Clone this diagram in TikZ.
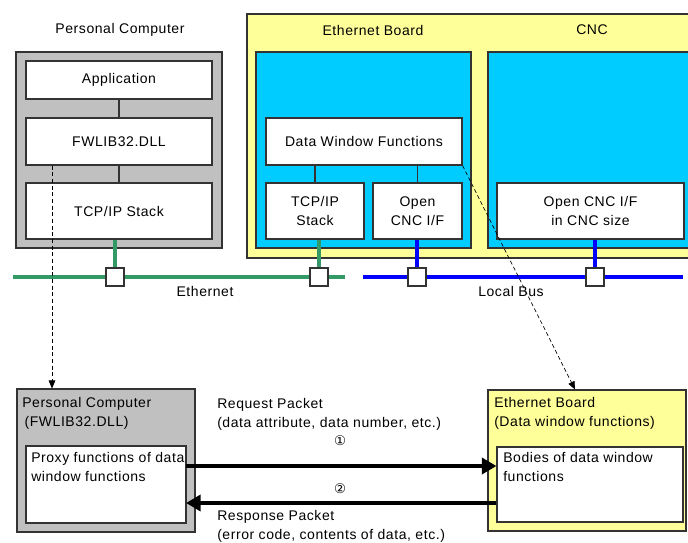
\documentclass[tikz,border=0pt]{standalone}
\usepackage{fontspec}
\setmainfont[LetterSpace=4]{Liberation Sans}
\newfontfamily\symfont{DejaVu Sans}
\usetikzlibrary{fit,arrows.meta}
\definecolor{panelgray}{HTML}{C0C0C0}
\definecolor{boardyellow}{HTML}{FFFF99}
\definecolor{cyanfill}{HTML}{00CCFF}
\definecolor{ethgreen}{HTML}{339966}
\definecolor{busblue}{HTML}{0000FF}
\definecolor{edgegray}{HTML}{333333}
\begin{document}
\begin{tikzpicture}[x=0.75pt,y=-0.75pt,
  font=\fontsize{10.5}{12}\selectfont,
  frame/.style={draw=edgegray, line width=0.8pt, inner sep=0pt},
  graybox/.style={frame, fill=panelgray},
  yellowbox/.style={frame, fill=boardyellow},
  cyanbox/.style={frame, fill=cyanfill},
  whitebox/.style={frame, fill=white, align=center},
  tap/.style={frame, fill=white, minimum size=13.5pt},
  link/.style={draw=edgegray, line width=0.8pt},
  ethline/.style={draw=ethgreen, line width=2.3pt},
  busline/.style={draw=busblue, line width=2.3pt},
  title/.style={inner sep=0pt},
  lefttext/.style={inner sep=0pt, anchor=north west, align=left, font=\fontsize{10.5}{14}\selectfont},
  dashlink/.style={draw=black, line width=0.5pt, dash pattern=on 3pt off 2pt, -{Triangle[length=6pt,width=5pt]}},
  packet/.style={draw=black, line width=3pt, -{Triangle[length=11pt,width=12pt]}}
]
\useasboundingbox (0,0) rectangle (688,542);
\clip (0,0) rectangle (688,542);

% ---------- upper part: system layout ----------
\node[title] (pctitle) at (120,30) {Personal Computer};
\node[graybox, fit={(16,52)(222,248)}] (pc) {};
\node[whitebox, fit={(26,61)(212,99)}] (app) {};
\node at (app.center) {Application};
\node[whitebox, fit={(26,118)(212,165)}] (fw) {};
\node at (fw.center) {FWLIB32.DLL};
\node[whitebox, fit={(26,183)(212,239)}] (tcp) {};
\node at (tcp.center) {TCP/IP Stack};
\draw[link] (app.south) -- (fw.north);
\draw[link] (fw.south) -- (tcp.north);

\node[yellowbox, fit={(247,14)(700,258)}] (board) {};
\node[title] (boardtitle) at (373,30) {Ethernet Board};
\node[title] (cnctitle) at (592,30) {CNC};
\node[cyanbox, fit={(256,52)(471,248)}] (ebarea) {};
\node[cyanbox, fit={(488,52)(700,248)}] (cncarea) {};
\node[whitebox, fit={(266,118)(462,165)}] (dwf) {};
\node at (dwf.center) {Data Window Functions};
\node[whitebox, fit={(266,183)(364,239)}] (etcp) {};
\node[align=center, font=\fontsize{10.5}{14}\selectfont] at (etcp.center) {TCP/IP\\Stack};
\node[whitebox, fit={(373,183)(462,239)}] (eopen) {};
\node[align=center, font=\fontsize{10.5}{14}\selectfont] at (eopen.center) {Open\\CNC I/F};
\node[whitebox, fit={(497,183)(684,239)}] (copen) {};
\node[align=center, font=\fontsize{10.5}{14}\selectfont] at (copen.center) {Open CNC I/F\\in CNC size};
\draw[link] (dwf.south -| etcp.north) -- (etcp.north);
\draw[link] (dwf.south -| eopen.north) -- (eopen.north);

% network lines
\coordinate (ethL) at (13,277);
\coordinate (ethR) at (345,277);
\coordinate (busL) at (363,277);
\coordinate (busR) at (683,277);
\draw[ethline] (ethL) -- (ethR);
\draw[busline] (busL) -- (busR);
\node[tap] (tap1) at (115,277) {};
\node[tap] (tap2) at (319,277) {};
\node[tap] (tap3) at (417,277) {};
\node[tap] (tap4) at (595,277) {};
\draw[ethline] (tcp.south -| tap1) -- (tap1.north);
\draw[ethline] (etcp.south -| tap2) -- (tap2.north);
\draw[busline] (eopen.south -| tap3) -- (tap3.north);
\draw[busline] (copen.south -| tap4) -- (tap4.north);
\node[title] (ethlabel) at (205,291) {Ethernet};
\node[title] (buslabel) at (511,291) {Local Bus};

% ---------- lower part: packet exchange ----------
\node[graybox, fit={(17,389)(195,532)}] (pcb) {};
\node[lefttext] (pcbtitle) at (22,397) {Personal Computer\\\,(FWLIB32.DLL)};
\node[whitebox, fit={(26,446)(186,523)}] (proxy) {};
\node[lefttext] (proxytext) at (31,452) {Proxy functions of data\\window functions};

\node[yellowbox, fit={(488,390)(686,531)}] (ebb) {};
\node[lefttext] (ebbtitle) at (494,397) {Ethernet Board\\(Data window functions)};
\node[whitebox, fit={(497,447)(683,522)}] (bodies) {};
\node[lefttext] (bodiestext) at (503,452) {Bodies of data window\\functions};

\coordinate (reqL) at (186,466);
\coordinate (resL) at (186,503);
\draw[packet] (reqL) -- (reqL -| bodies.west);
\draw[packet] (resL -| bodies.west) -- (resL);

\node[lefttext] (reqtext) at (217,398) {Request Packet\\(data attribute, data number, etc.)};
\node[inner sep=0pt, font=\symfont\fontsize{10}{10}\selectfont] (num1) at (340,441) {①};
\node[inner sep=0pt, font=\symfont\fontsize{10}{10}\selectfont] (num2) at (340,489) {②};
\node[lefttext] (restext) at (217,510) {Response Packet\\(error code, contents of data, etc.)};

% ---------- dashed correspondence arrows ----------
\coordinate (pcx) at (52,0);
\draw[dashlink] (fw.south -| pcx) -- (pcb.north -| pcx);
\coordinate (ebx) at (575,0);
\draw[dashlink] (dwf.south east) -- (ebb.north -| ebx);
\end{tikzpicture}
\end{document}
